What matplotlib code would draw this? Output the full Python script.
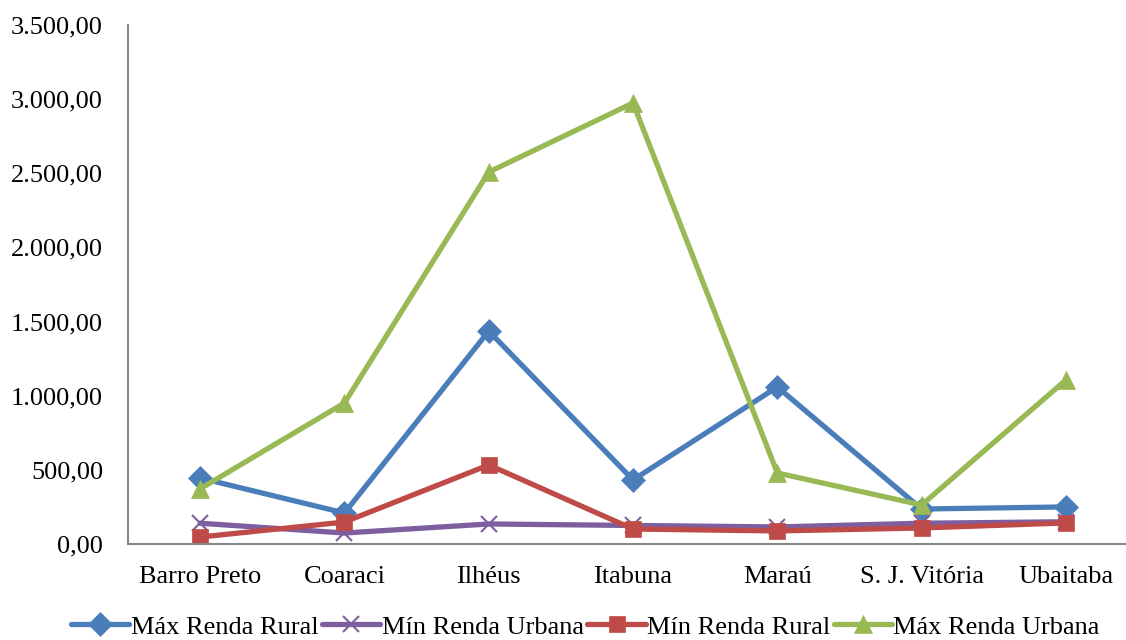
import matplotlib
matplotlib.use("Agg")
import matplotlib.pyplot as plt
from matplotlib.ticker import FuncFormatter

municipios = ["Barro Preto", "Coaraci", "Ilhéus", "Itabuna", "Maraú", "S. J. Vitória", "Ubaitaba"]
max_renda_rural = [445, 209, 1436, 432, 1059, 236, 250]
min_renda_urbana = [140, 74, 135, 125, 115, 140, 150]
min_renda_rural = [47, 148, 533, 101, 88, 108, 142]
max_renda_urbana = [372, 951, 2508, 2974, 479, 263, 1106]

plt.rcParams["font.family"] = ["Liberation Serif", "DejaVu Serif"]

fig = plt.figure(figsize=(11.26, 6.40), dpi=100)
ax = fig.add_axes([0.1137, 0.150, 0.897, 0.811])

x = list(range(len(municipios)))
series = [
    ("Máx Renda Rural", max_renda_rural, "#4A7EBB", "D", 12),
    ("Mín Renda Urbana", min_renda_urbana, "#7D5FA0", "x", 11),
    ("Mín Renda Rural", min_renda_rural, "#BE4B48", "s", 12),
    ("Máx Renda Urbana", max_renda_urbana, "#98B954", "^", 13),
]
for label, vals, color, marker, ms in series:
    ax.plot(x, vals, color=color, lw=3.8, marker=marker, markersize=ms,
            markeredgewidth=1.5 if marker == "x" else 0.5, markeredgecolor=color,
            markerfacecolor=color, label=label, solid_capstyle="round")

ax.set_xlim(-0.5, len(municipios) - 0.5)
ax.set_ylim(0, 3500)
ax.set_yticks(range(0, 3501, 500))
ax.yaxis.set_major_formatter(FuncFormatter(
    lambda v, p: f"{v:,.2f}".replace(",", "X").replace(".", ",").replace("X", ".")))
ax.set_xticks(x)
ax.set_xticklabels(municipios)
ax.tick_params(axis="both", length=0, labelsize=19, colors="black")
ax.tick_params(axis="y", pad=18)
ax.tick_params(axis="x", pad=16)

for side in ["top", "right"]:
    ax.spines[side].set_visible(False)
for side in ["left", "bottom"]:
    ax.spines[side].set_color("#868686")
    ax.spines[side].set_linewidth(1.5)

fig.legend(loc="lower center", bbox_to_anchor=(0.52, -0.035), ncol=4, frameon=False,
           fontsize=19, handlelength=2.2, handletextpad=0.05, columnspacing=0.15,
           markerscale=1.0)

fig.savefig("out.png", dpi=100)
